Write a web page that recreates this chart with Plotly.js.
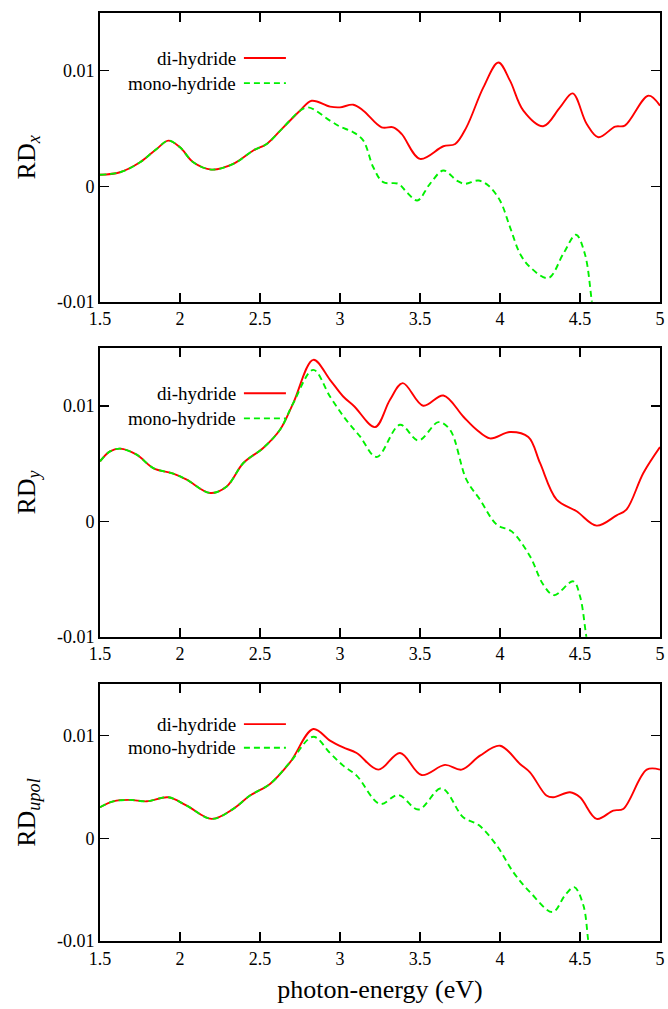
<!DOCTYPE html>
<html>
<head>
<meta charset="utf-8">
<script src="https://cdn.plot.ly/plotly-3.0.1.min.js"></script>
<style>html,body{margin:0;padding:0;background:#fff;}#chart{width:668px;height:1009px;}</style>
</head>
<body>
<div id="chart"></div>
<script>
// ---------- data ----------
const seriesNames = ["di-hydride", "mono-hydride"];
const yTitles = ["RD<sub><i>x</i></sub>", "RD<sub><i>y</i></sub>", "RD<sub><i>upol</i></sub>"];
const xTickVals = [1.5, 2, 2.5, 3, 3.5, 4, 4.5, 5];
const xTickText = ["1.5", "2", "2.5", "3", "3.5", "4", "4.5", "5"];
const yTickVals = [-0.01, 0, 0.01];
const yTickText = ["-0.01", "0", "0.01"];
const xTitle = "photon-energy (eV)";

// Panel 1: RD_x
const rdxDiX = [1.5,1.625,1.75,1.854,1.927,2.0,2.083,2.198,2.333,2.458,2.542,2.646,2.75,2.823,2.9375,3.0,3.083,3.146,3.26,3.333,3.385,3.5,3.646,3.72,3.79,3.896,3.99,4.0625,4.146,4.27,4.375,4.454,4.542,4.615,4.72,4.78,4.927,5.0];
const rdxDiY = [0.00099,0.00121,0.00207,0.00323,0.00395,0.00337,0.00207,0.00144,0.00193,0.00309,0.00366,0.0051,0.00654,0.0074,0.00689,0.00683,0.00706,0.00654,0.0051,0.0051,0.00453,0.00237,0.00346,0.00366,0.0051,0.00856,0.01072,0.00914,0.00654,0.00519,0.00683,0.00804,0.00539,0.00424,0.00516,0.00525,0.00784,0.00697];
const rdxMonoX = [1.5,1.625,1.75,1.854,1.927,2.0,2.083,2.198,2.333,2.458,2.542,2.646,2.75,2.802,2.9375,3.0,3.083,3.146,3.208,3.27,3.365,3.417,3.483,3.5625,3.646,3.73,3.78,3.865,3.927,4.0,4.0625,4.125,4.1875,4.302,4.396,4.475,4.53,4.573,4.6];
const rdxMonoY = [0.00099,0.00121,0.00207,0.00323,0.00395,0.00337,0.00207,0.00144,0.00193,0.00309,0.00366,0.0051,0.00654,0.00683,0.00568,0.00516,0.00467,0.00395,0.00164,0.00035,0.00021,-0.00052,-0.00124,0.00021,0.00136,0.00049,0.00021,0.00049,0.00006,-0.00124,-0.00354,-0.00584,-0.007,-0.00795,-0.00584,-0.0042,-0.00584,-0.00988,-0.013];

// Panel 2: RD_y
const rdyDiX = [1.5,1.5625,1.625,1.729,1.833,1.958,2.042,2.1875,2.292,2.396,2.52,2.625,2.708,2.833,2.9375,3.02,3.09,3.219,3.3125,3.392,3.52,3.646,3.77,3.854,3.9375,4.0625,4.177,4.25,4.354,4.479,4.604,4.729,4.79,4.896,5.0];
const rdyDiY = [0.0052,0.00606,0.0063,0.00578,0.00462,0.00413,0.00361,0.00246,0.00303,0.00506,0.00636,0.00794,0.01025,0.014,0.01227,0.01082,0.00996,0.00817,0.01054,0.01198,0.01002,0.01091,0.00909,0.00794,0.00719,0.00774,0.00731,0.00506,0.00188,0.00087,-0.00037,0.00052,0.00101,0.00419,0.00644];
const rdyMonoX = [1.5,1.5625,1.625,1.729,1.833,1.958,2.042,2.1875,2.292,2.396,2.52,2.625,2.708,2.833,2.9375,3.03,3.125,3.229,3.375,3.49,3.615,3.6875,3.79,3.875,3.98,4.073,4.1875,4.27,4.3375,4.458,4.5,4.5375,4.56];
const rdyMonoY = [0.0052,0.00606,0.0063,0.00578,0.00462,0.00413,0.00361,0.00246,0.00303,0.00506,0.00636,0.00794,0.01025,0.01313,0.01082,0.00895,0.00736,0.00558,0.00837,0.00701,0.0086,0.00794,0.00361,0.00188,-0.00029,-0.00087,-0.00303,-0.00548,-0.0064,-0.0052,-0.0065,-0.0098,-0.012];

// Panel 3: RD_upol
const rduDiX = [1.5,1.583,1.6875,1.792,1.927,2.042,2.198,2.333,2.4375,2.5625,2.6875,2.833,2.9375,3.02,3.104,3.24,3.375,3.51,3.656,3.76,3.875,4.0,4.125,4.1875,4.29,4.333,4.4375,4.5,4.604,4.708,4.77,4.917,5.0];
const rduDiY = [0.00301,0.00359,0.00373,0.00359,0.00398,0.00317,0.00188,0.00285,0.00415,0.00528,0.00738,0.01062,0.00949,0.00883,0.00829,0.00667,0.00829,0.00615,0.00713,0.00667,0.00803,0.009,0.00722,0.00641,0.00415,0.00398,0.00447,0.00398,0.00188,0.00269,0.00285,0.00667,0.00667];
const rduMonoX = [1.5,1.583,1.6875,1.792,1.927,2.042,2.198,2.333,2.4375,2.5625,2.6875,2.833,2.9375,3.02,3.104,3.25,3.365,3.49,3.635,3.77,3.865,3.98,4.083,4.1875,4.329,4.406,4.464,4.521,4.552,4.58];
const rduMonoY = [0.00301,0.00359,0.00373,0.00359,0.00398,0.00317,0.00188,0.00285,0.00415,0.00528,0.00738,0.00987,0.00829,0.00706,0.00609,0.00334,0.00421,0.00279,0.00486,0.00204,0.0013,-0.00071,-0.0033,-0.00524,-0.00718,-0.00556,-0.00476,-0.00653,-0.01,-0.013];

// ---------- styling / build ----------
const FONT = "Liberation Serif";
const RED = "#ff0000", GREEN = "#00f000";
const panels = [
  {di:[rdxDiX, rdxDiY], mono:[rdxMonoX, rdxMonoY], dom:[0.6889, 1.0]},
  {di:[rdyDiX, rdyDiY], mono:[rdyMonoX, rdyMonoY], dom:[0.3279, 0.6387]},
  {di:[rduDiX, rduDiY], mono:[rduMonoX, rduMonoY], dom:[0.0, 0.2769]}
];

const traces = [];
const layout = {
  width: 668, height: 1009,
  margin: {l: 100, r: 8, t: 13, b: 68},
  paper_bgcolor: "#fff", plot_bgcolor: "#fff",
  showlegend: false,
  font: {family: FONT, size: 18, color: "#000"},
  annotations: [], shapes: []
};

panels.forEach((p, i) => {
  const n = i === 0 ? "" : String(i + 1);
  const xa = "x" + n, ya = "y" + n;
  traces.push({x: p.di[0], y: p.di[1], xaxis: xa, yaxis: ya, type: "scatter", mode: "lines",
    name: seriesNames[0], line: {color: RED, width: 1.9, shape: "spline", smoothing: 1}});
  traces.push({x: p.mono[0], y: p.mono[1], xaxis: xa, yaxis: ya, type: "scatter", mode: "lines",
    name: seriesNames[1], line: {color: GREEN, width: 1.9, dash: "6px,4px", shape: "spline", smoothing: 1}});

  layout["xaxis" + n] = {
    anchor: ya, domain: [0, 1], range: [1.5, 5],
    tickmode: "array", tickvals: xTickVals, ticktext: xTickText,
    ticks: "inside", ticklen: 9, tickwidth: 1.3, tickcolor: "#000",
    showline: true, linecolor: "#000", linewidth: 2, mirror: "ticks",
    showgrid: false, zeroline: false,
    tickfont: {family: FONT, size: 18, color: "#000"}
  };
  if (i === 2) {
    layout["xaxis" + n].title = {text: xTitle, font: {family: FONT, size: 26, color: "#000"}, standoff: 12};
  }
  layout["yaxis" + n] = {
    anchor: xa, domain: p.dom, range: [-0.01, 0.015],
    tickmode: "array", tickvals: yTickVals, ticktext: yTickText,
    ticks: "inside", ticklen: 9, tickwidth: 1.3, tickcolor: "#000",
    showline: true, linecolor: "#000", linewidth: 2, mirror: "ticks",
    showgrid: false, zeroline: false,
    tickfont: {family: FONT, size: 18, color: "#000"},
    title: {text: yTitles[i], font: {family: FONT, size: 26, color: "#000"}, standoff: 14}
  };

  // legend (text left of sample, gnuplot style)
  const rows = [[seriesNames[0], RED, "solid", 0.844], [seriesNames[1], GREEN, "6px,4px", i === 2 ? 0.752 : 0.757]];
  rows.forEach(r => {
    layout.annotations.push({xref: xa + " domain", yref: ya + " domain", x: 0.247, y: r[3],
      text: r[0], showarrow: false, xanchor: "right", yanchor: "middle",
      font: {family: FONT, size: 19, color: "#000"}});
    layout.shapes.push({type: "line", xref: xa + " domain", yref: ya + " domain",
      x0: 0.257, x1: 0.332, y0: r[3], y1: r[3], line: {color: r[1], width: 1.9, dash: r[2]}});
  });
});

Plotly.newPlot("chart", traces, layout, {staticPlot: true, displayModeBar: false});
</script>
</body>
</html>
